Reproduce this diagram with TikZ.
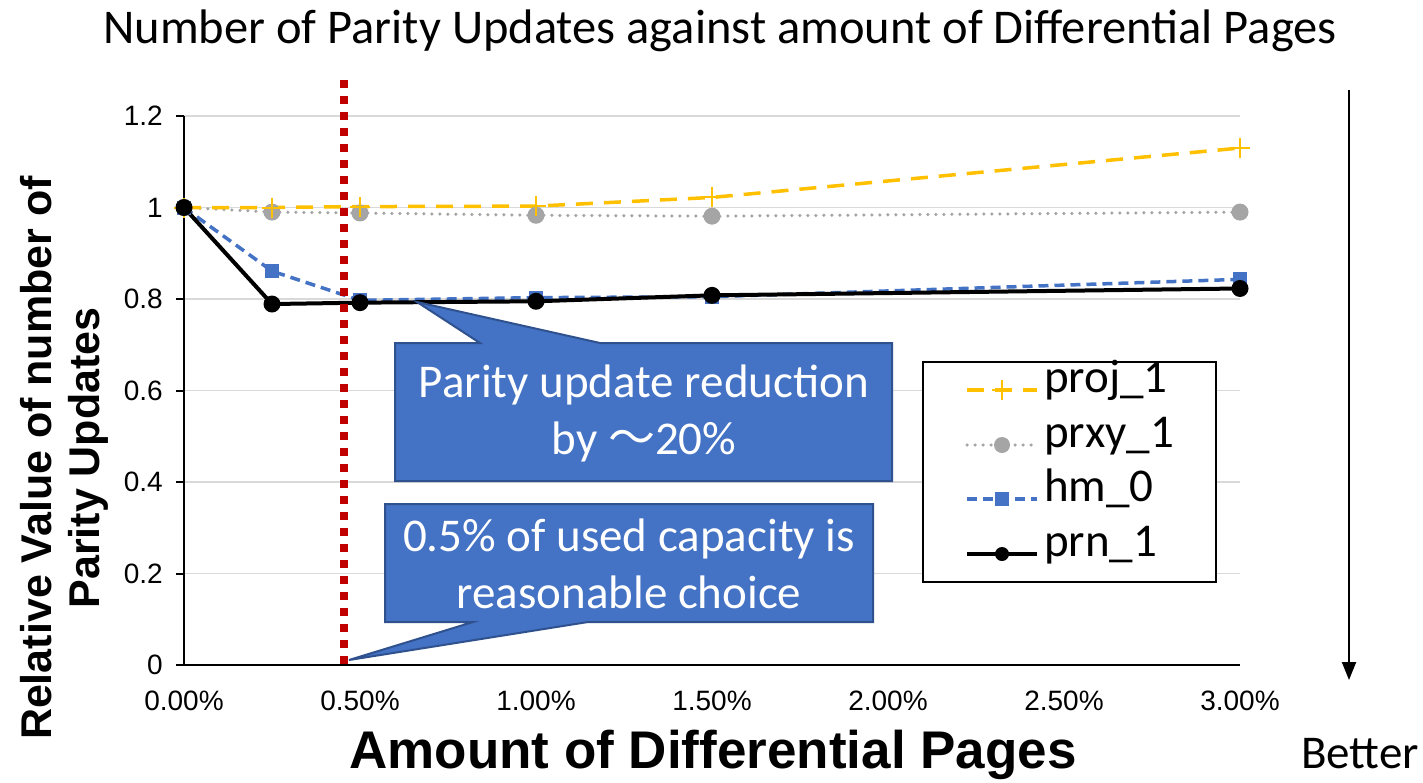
\documentclass[tikz,border=0pt]{standalone}
\usepackage{fontspec}
\setmainfont{Carlito}
\newfontfamily\arialfont{Liberation Sans}
\newfontfamily\cjkfont{Noto Sans CJK JP}
\usetikzlibrary{arrows.meta}

\definecolor{projc}{HTML}{FFC000}
\definecolor{prxyc}{HTML}{A5A5A5}
\definecolor{hmc}{HTML}{4472C4}
\definecolor{gridc}{HTML}{D9D9D9}
\definecolor{markred}{HTML}{C00000}
\definecolor{callfill}{HTML}{4472C4}
\definecolor{calldraw}{HTML}{2F528F}

\newcommand\bigcal{\fontsize{47}{57}\selectfont}
\newcommand\titlecal{\fontsize{48.5}{57}\selectfont}
\newcommand\tickfont{\arialfont\fontsize{28}{32}\selectfont}
\newcommand\axtitlefont{\arialfont\bfseries\fontsize{53}{56}\selectfont}
\newcommand\aytitlefont{\arialfont\bfseries\fontsize{43}{48}\selectfont}

\tikzset{
  gridline/.style={gridc, line width=1.5pt},
  axisline/.style={black, line width=2pt},
  ticklabel/.style={inner sep=0pt, font=\tickfont},
  projline/.style={projc, line width=3.5pt, dash pattern=on 17pt off 11pt},
  prxyline/.style={prxyc, line width=3.5pt, line cap=round, dash pattern=on 0pt off 8pt},
  hmline/.style={hmc, line width=3.5pt, dash pattern=on 10pt off 6pt},
  prnline/.style={black, line width=4pt},
  callout/.style={fill=callfill, draw=calldraw, line width=2pt, line join=miter},
  callouttext/.style={text=white, align=center, inner sep=0pt, font=\bigcal},
  legendtext/.style={anchor=mid west, inner sep=0pt, font=\bigcal},
  projmark/.style={projc, line width=2pt},
  prxymark/.style={fill=prxyc},
  hmmark/.style={fill=hmc},
  prnmark/.style={fill=black},
}

\begin{document}
\begin{tikzpicture}[x=1pt, y=-1pt]
\useasboundingbox[fill=white] (0,0) rectangle (1423,782);

% title
\node[font=\titlecal, inner sep=0pt] (title) at (720,31) {Number of Parity Updates against amount of Differential Pages};

% plot area in data units: x in percent, y relative value
\begin{scope}[shift={(184,665)}, x=352pt, y=457.5pt]
  \foreach \v in {0.2,0.4,0.6,0.8,1.0,1.2}
    \draw[gridline] (0,\v) -- (3,\v);
  \draw[axisline] (0,0) -- (0,1.2);
  \draw[axisline] (0,0) -- (3,0);
  \foreach \v/\t [count=\i] in {0/0,0.2/0.2,0.4/0.4,0.6/0.6,0.8/0.8,1.0/1,1.2/1.2} {
    \draw[axisline] (0,\v) -- ++(-8pt,0);
    \node[ticklabel, anchor=east] (ytick\i) at ([xshift=-21pt]0,\v) {\t};
  }
  \foreach \p/\t [count=\i] in {0/0.00\%,0.5/0.50\%,1/1.00\%,1.5/1.50\%,2/2.00\%,2.5/2.50\%,3/3.00\%}
    \node[ticklabel, anchor=base] (xtick\i) at ([yshift=-45pt]\p,0) {\t};

  % series lines
  \draw[prxyline] plot coordinates {(0,1) (0.25,0.99) (0.5,0.988) (1,0.983) (1.5,0.981) (3,0.99)};
  \draw[projline] plot coordinates {(0,1) (0.25,1.0) (0.5,1.002) (1,1.003) (1.5,1.022) (3,1.13)};
  \draw[hmline] plot coordinates {(0,1) (0.25,0.861) (0.5,0.797) (1,0.803) (1.5,0.805) (3,0.843)};
  \draw[prnline, line join=round] plot coordinates {(0,1) (0.25,0.789) (0.5,0.792) (1,0.795) (1.5,0.808) (3,0.823)};

  % series markers
  \foreach \p/\v in {0/1,0.25/0.99,0.5/0.988,1/0.983,1.5/0.981,3/0.99}
    \fill[prxymark] (\p,\v) circle[radius=8.5pt];
  \foreach \p/\v in {0/1,0.25/1.0,0.5/1.002,1/1.003,1.5/1.022,3/1.13}
    \draw[projmark] ([xshift=-10pt]\p,\v) -- ([xshift=10pt]\p,\v)
                    ([yshift=-10pt]\p,\v) -- ([yshift=10pt]\p,\v);
  \foreach \p/\v in {0/1,0.25/0.861,0.5/0.797,1/0.803,1.5/0.805,3/0.843}
    \fill[hmmark] ([shift={(-7pt,-7pt)}]\p,\v) rectangle ([shift={(7pt,7pt)}]\p,\v);
  \foreach \p/\v in {0/1,0.25/0.789,0.5/0.792,1/0.795,1.5/0.808,3/0.823}
    \fill[prnmark] (\p,\v) circle[radius=8.5pt];
\end{scope}

% 0.5% threshold marker line
\coordinate (thtop) at (344,80);
\coordinate (thbot) at (344,665);
\draw[markred, line width=8pt, dash pattern=on 8pt off 8pt] (thtop) -- (thbot);

% callout: parity update reduction
\draw[callout] (417,302) -- (480,343) -- (395,343) -- (395,481) -- (892,481) -- (892,343) -- (600,343) -- cycle;
\node[callouttext] (calloutA) at (644,413) {Parity update reduction\\by {\cjkfont ～}20\%};

% callout: reasonable choice
\draw[callout] (385,504) -- (873,504) -- (873,622) -- (588,622) -- (349,660) -- (473,622) -- (385,622) -- cycle;
\node[callouttext] (calloutB) at (629,564) {0.5\% of used capacity is\\reasonable choice};

% legend
\draw[black, line width=1.5pt, fill=white] (923,362) rectangle (1216,582);
\draw[projline] (967,390) -- (1037,390);
\draw[projmark] (992,390) -- (1012,390) (1002,380) -- (1002,400);
\node[legendtext] (legA) at (1044,390) {proj\_1};
\draw[prxyline] (967,445) -- (1037,445);
\fill[prxymark] (1002,445) circle[radius=8pt];
\node[legendtext] (legB) at (1044,445) {prxy\_1};
\draw[hmline] (967,499) -- (1037,499);
\fill[hmmark] (995,492) rectangle (1009,506);
\node[legendtext] (legC) at (1044,499) {hm\_0};
\draw[prnline] (967,554) -- (1037,554);
\fill[prnmark] (1002,554) circle[radius=7pt];
\node[legendtext] (legD) at (1044,554) {prn\_1};

% axis titles
\node[font=\axtitlefont, inner sep=0pt] (xtitle) at (713,755) {Amount of Differential Pages};
\node[font=\aytitlefont, rotate=90, align=center, inner sep=0pt] (ytitle) at (64,458) {Relative Value of number of\\Parity Updates};

% "better" direction arrow
\coordinate (arrtop) at (1349,90);
\coordinate (arrbot) at (1349,680);
\draw[line width=2pt, -{Triangle[length=18pt,width=14pt]}] (arrtop) -- (arrbot);
\node[font=\bigcal, inner sep=0pt, anchor=base east] (better) at (1419,768) {Better};
\end{tikzpicture}
\end{document}
